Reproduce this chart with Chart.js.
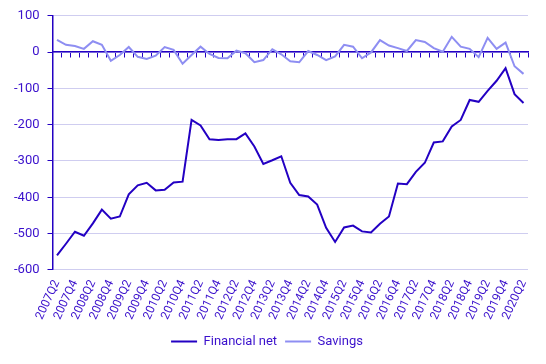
<!DOCTYPE html>
<html>
<head>
<meta charset="utf-8">
<script src="https://cdn.jsdelivr.net/npm/chart.js@4/dist/chart.umd.min.js"></script>
<style>
  html, body { margin: 0; padding: 0; background: #fff; }
  #wrap { width: 546px; height: 364px; }
</style>
</head>
<body>
<div id="wrap"><canvas id="chart"></canvas></div>
<script>
// quarters 2007Q2 .. 2020Q2
const quarters = [];
for (let y = 2007; y <= 2020; y++) {
    for (let q = 1; q <= 4; q++) {
        if ((y === 2007 && q < 2) || (y === 2020 && q > 2)) continue;
        quarters.push(y + 'Q' + q);
    }
}

const financialNet = [
    -560, -528, -495, -506, -472, -434, -459, -453, -392, -367,
    -360, -381, -379, -359, -357, -187, -202, -240, -242, -240,
    -240, -224, -260, -308, -298, -287, -360, -394, -398, -420,
    -484, -523, -483, -478, -494, -497, -473, -453, -362, -364,
    -330, -305, -249, -246, -205, -187, -132, -137, -107, -79,
    -44, -116, -140
];

const savings = [
    34, 20, 17, 9, 30, 20, -24, -8, 14, -13,
    -19, -10, 14, 6, -32, -8, 15, -5, -16, -17,
    4, -3, -28, -22, 8, -6, -25, -28, 3, -8,
    -22, -12, 20, 15, -17, -1, 33, 18, 11, 3,
    33, 28, 11, 1, 42, 15, 9, -14, 39, 9,
    26, -39, -60
];

const yTicks = [100, 0, -100, -200, -300, -400, -500, -600];

const dark = '#2300c3';
const light = '#8e8ef2';
const textCol = '#3a10cc';
const gridCol = '#cfcdf0';

Chart.defaults.font.family = 'Roboto, sans-serif';
Chart.defaults.font.size = 13;
Chart.defaults.color = textCol;

new Chart(document.getElementById('chart').getContext('2d'), {
    type: 'line',
    data: {
        labels: quarters,
        datasets: [
            {
                label: 'Financial net',
                data: financialNet,
                borderColor: dark,
                backgroundColor: dark,
                borderWidth: 2,
                pointRadius: 0,
                tension: 0
            },
            {
                label: 'Savings',
                data: savings,
                borderColor: light,
                backgroundColor: light,
                borderWidth: 2,
                pointRadius: 0,
                tension: 0
            }
        ]
    },
    options: {
        responsive: true,
        maintainAspectRatio: false,
        animation: false,
        layout: { padding: { top: 11, right: 18, left: 6, bottom: 6 } },
        plugins: {
            legend: {
                position: 'bottom',
                labels: {
                    usePointStyle: true,
                    pointStyle: 'line',
                    pointStyleWidth: 26,
                    padding: 8,
                    color: textCol
                }
            },
            tooltip: { enabled: false }
        },
        scales: {
            x: {
                type: 'category',
                offset: true,
                grid: { display: false },
                border: { display: false },
                afterFit: function(axis) { axis.height += 5; },
                ticks: {
                    autoSkip: false,
                    minRotation: 65,
                    maxRotation: 65,
                    padding: 0,
                    font: { size: 12 },
                    callback: function(v, i) {
                        return i % 2 === 0 ? quarters[i] : '';
                    }
                }
            },
            x2: {
                type: 'category',
                axis: 'x',
                offset: true,
                position: { y: 0 },
                grid: {
                    offset: true,
                    drawOnChartArea: false,
                    drawTicks: true,
                    tickLength: 5,
                    tickColor: dark,
                    lineWidth: 1
                },
                border: { display: true, color: dark, width: 1.5 },
                ticks: { display: false }
            },
            y: {
                min: -600,
                max: 100,
                afterBuildTicks: function(axis) {
                    axis.ticks = yTicks.map(v => ({ value: v }));
                },
                grid: {
                    color: gridCol,
                    tickColor: dark,
                    tickLength: 5
                },
                border: { display: true, color: dark, width: 1.5 },
                ticks: { padding: 8 }
            }
        }
    }
});
</script>
</body>
</html>
